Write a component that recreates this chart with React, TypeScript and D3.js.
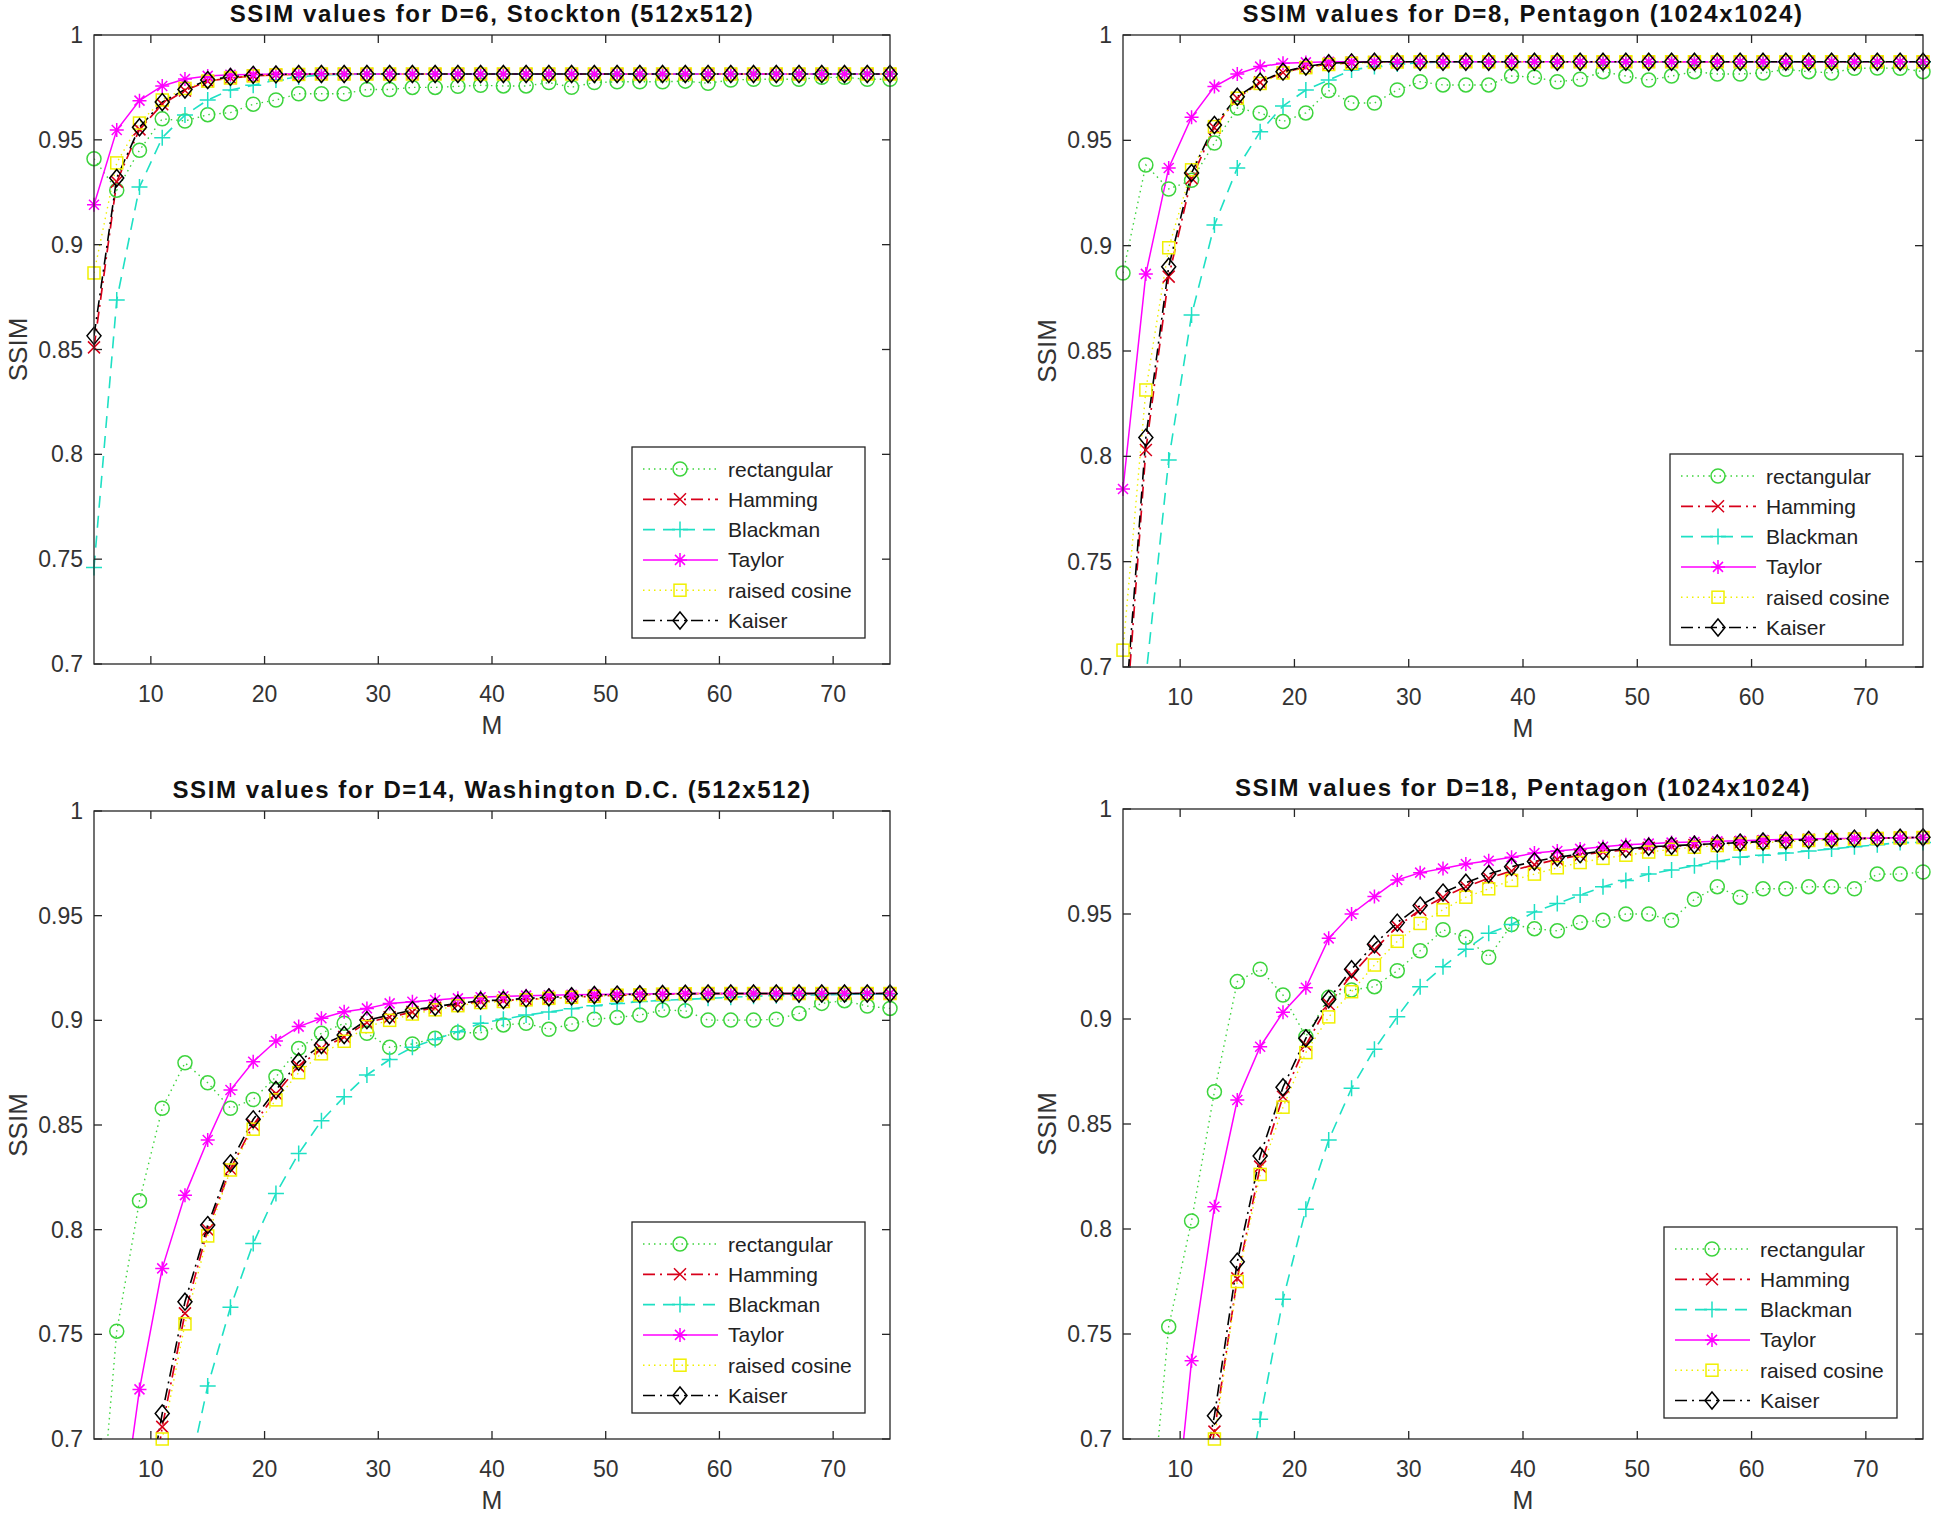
import React from 'react';
import * as d3 from 'd3';

const M = [5, 7, 9, 11, 13, 15, 17, 19, 21, 23, 25, 27, 29, 31, 33, 35, 37, 39, 41, 43, 45, 47, 49, 51, 53, 55, 57, 59, 61, 63, 65, 67, 69, 71, 73, 75];
const seriesNames = ['rectangular', 'Hamming', 'Blackman', 'Taylor', 'raised cosine', 'Kaiser'];
const titles = [
  'SSIM values for D=6, Stockton (512x512)',
  'SSIM values for D=8, Pentagon (1024x1024)',
  'SSIM values for D=14, Washington D.C. (512x512)',
  'SSIM values for D=18, Pentagon (1024x1024)',
];
const xTicks = [10, 20, 30, 40, 50, 60, 70];
const yTicks = [0.7, 0.75, 0.8, 0.85, 0.9, 0.95, 1];
const yTickLabels = ['0.7', '0.75', '0.8', '0.85', '0.9', '0.95', '1'];

// Panel 1: D=6, Stockton
const p1Rect = [0.941, 0.926, 0.945, 0.960, 0.959, 0.962, 0.963, 0.967, 0.969, 0.972, 0.972, 0.972, 0.974, 0.974, 0.975, 0.975, 0.9755, 0.976, 0.9757, 0.9757, 0.9773, 0.9751, 0.9773, 0.9777, 0.9777, 0.9777, 0.978, 0.977, 0.9785, 0.9789, 0.9789, 0.9789, 0.9798, 0.9798, 0.9789, 0.9789];
const p1Hamming = [0.851, 0.930, 0.955, 0.967, 0.9735, 0.978, 0.9795, 0.9805, 0.981, 0.9812, 0.9814, 0.9814, 0.9814, 0.9814, 0.9814, 0.9814, 0.9814, 0.9814, 0.9814, 0.9814, 0.9814, 0.9814, 0.9814, 0.9814, 0.9814, 0.9814, 0.9814, 0.9814, 0.9814, 0.9814, 0.9814, 0.9814, 0.9814, 0.9814, 0.9814, 0.9814];
const p1Blackman = [0.746, 0.8736, 0.9275, 0.951, 0.9618, 0.969, 0.9738, 0.976, 0.9785, 0.980, 0.981, 0.9812, 0.9814, 0.9814, 0.9814, 0.9814, 0.9814, 0.9814, 0.9814, 0.9814, 0.9814, 0.9814, 0.9814, 0.9814, 0.9814, 0.9814, 0.9814, 0.9814, 0.9814, 0.9814, 0.9814, 0.9814, 0.9814, 0.9814, 0.9814, 0.9814];
const p1Taylor = [0.919, 0.9547, 0.9687, 0.9757, 0.979, 0.9805, 0.981, 0.9812, 0.9814, 0.9814, 0.9814, 0.9814, 0.9814, 0.9814, 0.9814, 0.9814, 0.9814, 0.9814, 0.9814, 0.9814, 0.9814, 0.9814, 0.9814, 0.9814, 0.9814, 0.9814, 0.9814, 0.9814, 0.9814, 0.9814, 0.9814, 0.9814, 0.9814, 0.9814, 0.9814, 0.9814];
const p1Raised = [0.8865, 0.939, 0.958, 0.969, 0.9745, 0.978, 0.9795, 0.9805, 0.981, 0.9812, 0.9814, 0.9814, 0.9814, 0.9814, 0.9814, 0.9814, 0.9814, 0.9814, 0.9814, 0.9814, 0.9814, 0.9814, 0.9814, 0.9814, 0.9814, 0.9814, 0.9814, 0.9814, 0.9814, 0.9814, 0.9814, 0.9814, 0.9814, 0.9814, 0.9814, 0.9814];
const p1Kaiser = [0.8565, 0.9318, 0.956, 0.968, 0.974, 0.9785, 0.980, 0.981, 0.9812, 0.9814, 0.9814, 0.9814, 0.9814, 0.9814, 0.9814, 0.9814, 0.9814, 0.9814, 0.9814, 0.9814, 0.9814, 0.9814, 0.9814, 0.9814, 0.9814, 0.9814, 0.9814, 0.9814, 0.9814, 0.9814, 0.9814, 0.9814, 0.9814, 0.9814, 0.9814, 0.9814];

// Panel 2: D=8, Pentagon
const p2Rect = [0.887, 0.9383, 0.9269, 0.931, 0.9487, 0.9653, 0.963, 0.9589, 0.963, 0.9736, 0.9677, 0.9677, 0.9739, 0.9778, 0.9763, 0.9763, 0.9763, 0.9805, 0.980, 0.9778, 0.979, 0.9826, 0.9805, 0.9786, 0.9805, 0.9826, 0.9815, 0.9815, 0.982, 0.9837, 0.9826, 0.982, 0.9842, 0.9843, 0.9842, 0.9826];
const p2Hamming = [0.655, 0.803, 0.8853, 0.932, 0.956, 0.970, 0.9775, 0.9822, 0.9848, 0.9862, 0.9868, 0.9872, 0.9873, 0.9873, 0.9873, 0.9873, 0.9873, 0.9873, 0.9873, 0.9873, 0.9873, 0.9873, 0.9873, 0.9873, 0.9873, 0.9873, 0.9873, 0.9873, 0.9873, 0.9873, 0.9873, 0.9873, 0.9873, 0.9873, 0.9873, 0.9873];
const p2Blackman = [0.55, 0.695, 0.7983, 0.8671, 0.9098, 0.9369, 0.9541, 0.9663, 0.9739, 0.9786, 0.9834, 0.985, 0.9862, 0.9868, 0.9872, 0.9873, 0.9873, 0.9873, 0.9873, 0.9873, 0.9873, 0.9873, 0.9873, 0.9873, 0.9873, 0.9873, 0.9873, 0.9873, 0.9873, 0.9873, 0.9873, 0.9873, 0.9873, 0.9873, 0.9873, 0.9873];
const p2Taylor = [0.7845, 0.8866, 0.9369, 0.961, 0.9755, 0.9815, 0.985, 0.9866, 0.987, 0.9873, 0.9873, 0.9873, 0.9873, 0.9873, 0.9873, 0.9873, 0.9873, 0.9873, 0.9873, 0.9873, 0.9873, 0.9873, 0.9873, 0.9873, 0.9873, 0.9873, 0.9873, 0.9873, 0.9873, 0.9873, 0.9873, 0.9873, 0.9873, 0.9873, 0.9873, 0.9873];
const p2Raised = [0.708, 0.8315, 0.899, 0.936, 0.9565, 0.970, 0.977, 0.982, 0.9845, 0.986, 0.9866, 0.987, 0.9872, 0.9873, 0.9873, 0.9873, 0.9873, 0.9873, 0.9873, 0.9873, 0.9873, 0.9873, 0.9873, 0.9873, 0.9873, 0.9873, 0.9873, 0.9873, 0.9873, 0.9873, 0.9873, 0.9873, 0.9873, 0.9873, 0.9873, 0.9873];
const p2Kaiser = [0.664, 0.8089, 0.890, 0.9345, 0.9573, 0.9707, 0.9778, 0.9826, 0.985, 0.9866, 0.987, 0.9873, 0.9873, 0.9873, 0.9873, 0.9873, 0.9873, 0.9873, 0.9873, 0.9873, 0.9873, 0.9873, 0.9873, 0.9873, 0.9873, 0.9873, 0.9873, 0.9873, 0.9873, 0.9873, 0.9873, 0.9873, 0.9873, 0.9873, 0.9873, 0.9873];

// Panel 3: D=14, Washington D.C.
const p3Rect = [0.623, 0.7515, 0.8138, 0.858, 0.8797, 0.8702, 0.858, 0.8622, 0.873, 0.8866, 0.8938, 0.8986, 0.8938, 0.8871, 0.8887, 0.8914, 0.8941, 0.8941, 0.8978, 0.8986, 0.8957, 0.8982, 0.9005, 0.9014, 0.9025, 0.9049, 0.9046, 0.9001, 0.9001, 0.9001, 0.9005, 0.9033, 0.9081, 0.9094, 0.9068, 0.9057];
const p3Hamming = [0.55, 0.60, 0.636, 0.7058, 0.760, 0.800, 0.829, 0.850, 0.865, 0.878, 0.8865, 0.892, 0.899, 0.9015, 0.904, 0.906, 0.9075, 0.909, 0.9095, 0.910, 0.9105, 0.911, 0.9115, 0.912, 0.9122, 0.9125, 0.9127, 0.9128, 0.9128, 0.9128, 0.9128, 0.9128, 0.9128, 0.9128, 0.9128, 0.9128];
const p3Blackman = [0.45, 0.52, 0.58, 0.63, 0.675, 0.7253, 0.7629, 0.7934, 0.8173, 0.8364, 0.852, 0.8635, 0.8739, 0.8813, 0.8871, 0.8909, 0.8946, 0.8986, 0.9005, 0.9025, 0.904, 0.9055, 0.907, 0.908, 0.909, 0.9095, 0.910, 0.9105, 0.911, 0.9115, 0.9118, 0.912, 0.9122, 0.9124, 0.9125, 0.9126];
const p3Taylor = [0.55, 0.645, 0.7237, 0.7815, 0.8165, 0.8428, 0.8667, 0.8802, 0.8901, 0.897, 0.901, 0.9041, 0.9057, 0.9081, 0.9089, 0.9097, 0.9105, 0.911, 0.9115, 0.9118, 0.912, 0.9122, 0.9124, 0.9125, 0.9126, 0.9127, 0.9128, 0.9128, 0.9128, 0.9128, 0.9128, 0.9128, 0.9128, 0.9128, 0.9128, 0.9128];
const p3Raised = [0.54, 0.59, 0.635, 0.700, 0.755, 0.797, 0.8285, 0.848, 0.862, 0.875, 0.884, 0.890, 0.897, 0.900, 0.903, 0.905, 0.907, 0.9085, 0.909, 0.9098, 0.9105, 0.911, 0.9115, 0.912, 0.9122, 0.9125, 0.9127, 0.9128, 0.9128, 0.9128, 0.9128, 0.9128, 0.9128, 0.9128, 0.9128, 0.9128];
const p3Kaiser = [0.55, 0.60, 0.651, 0.7122, 0.7656, 0.8022, 0.8317, 0.8527, 0.8667, 0.8802, 0.8882, 0.893, 0.9001, 0.9025, 0.9049, 0.9065, 0.9081, 0.9094, 0.9097, 0.9105, 0.911, 0.9115, 0.9121, 0.9123, 0.9125, 0.9126, 0.9127, 0.9128, 0.9128, 0.9128, 0.9128, 0.9128, 0.9128, 0.9128, 0.9128, 0.9128];

// Panel 4: D=18, Pentagon
const p4Rect = [0.50, 0.635, 0.7535, 0.8038, 0.8654, 0.9178, 0.9237, 0.9114, 0.8916, 0.9103, 0.9138, 0.9154, 0.923, 0.9325, 0.9425, 0.9389, 0.9294, 0.945, 0.943, 0.942, 0.946, 0.947, 0.950, 0.950, 0.947, 0.957, 0.963, 0.958, 0.962, 0.962, 0.963, 0.963, 0.962, 0.969, 0.969, 0.970];
const p4Hamming = [0.44, 0.54, 0.59, 0.645, 0.7035, 0.7765, 0.8297, 0.863, 0.8876, 0.907, 0.921, 0.933, 0.944, 0.952, 0.958, 0.963, 0.967, 0.9705, 0.9735, 0.976, 0.978, 0.9795, 0.9805, 0.9815, 0.9822, 0.9828, 0.9834, 0.984, 0.9845, 0.985, 0.9853, 0.9856, 0.9859, 0.9861, 0.9863, 0.9865];
const p4Blackman = [0.40, 0.45, 0.50, 0.55, 0.60, 0.65, 0.7094, 0.7665, 0.8094, 0.8424, 0.867, 0.8856, 0.9011, 0.9154, 0.9249, 0.9332, 0.9408, 0.945, 0.951, 0.955, 0.959, 0.963, 0.966, 0.969, 0.971, 0.973, 0.975, 0.977, 0.978, 0.979, 0.980, 0.981, 0.982, 0.983, 0.984, 0.984];
const p4Taylor = [0.45, 0.55, 0.63, 0.7373, 0.8106, 0.8614, 0.8868, 0.9032, 0.9149, 0.9384, 0.95, 0.9583, 0.9662, 0.9697, 0.9717, 0.9738, 0.9754, 0.977, 0.979, 0.980, 0.981, 0.982, 0.983, 0.9835, 0.984, 0.9843, 0.9846, 0.9849, 0.9852, 0.9855, 0.9857, 0.9859, 0.986, 0.9862, 0.9863, 0.9864];
const p4Raised = [0.43, 0.53, 0.58, 0.64, 0.70, 0.775, 0.826, 0.858, 0.884, 0.901, 0.913, 0.9257, 0.937, 0.9455, 0.952, 0.958, 0.962, 0.966, 0.969, 0.972, 0.9745, 0.9765, 0.978, 0.9795, 0.9808, 0.9818, 0.9826, 0.9833, 0.984, 0.9845, 0.985, 0.9854, 0.9857, 0.986, 0.9862, 0.9864];
const p4Kaiser = [0.45, 0.55, 0.60, 0.655, 0.7111, 0.7844, 0.8348, 0.8675, 0.8908, 0.9094, 0.9237, 0.9356, 0.9459, 0.954, 0.9602, 0.9649, 0.969, 0.9725, 0.975, 0.977, 0.9785, 0.980, 0.981, 0.982, 0.9825, 0.983, 0.9835, 0.984, 0.9845, 0.985, 0.9853, 0.9856, 0.9859, 0.9861, 0.9863, 0.9865];

const panelSeries = [
  [p1Rect, p1Hamming, p1Blackman, p1Taylor, p1Raised, p1Kaiser],
  [p2Rect, p2Hamming, p2Blackman, p2Taylor, p2Raised, p2Kaiser],
  [p3Rect, p3Hamming, p3Blackman, p3Taylor, p3Raised, p3Kaiser],
  [p4Rect, p4Hamming, p4Blackman, p4Taylor, p4Raised, p4Kaiser],
];

// layout (pixels)
const layout = [
  { left: 94, right: 890, top: 35, bottom: 664, legR: 25, legB: 26 },
  { left: 1123, right: 1923, top: 35, bottom: 667, legR: 20, legB: 22 },
  { left: 94, right: 890, top: 811, bottom: 1439, legR: 25, legB: 26 },
  { left: 1123, right: 1923, top: 809, bottom: 1439, legR: 26, legB: 21 },
];

const styles = [
  { color: '#3dd43d', dash: '1.5,4', marker: 'o', width: 1.4 },
  { color: '#d8001a', dash: '12,5,2,5', marker: 'x', width: 1.7 },
  { color: '#1ee0c4', dash: '12,8', marker: '+', width: 1.6 },
  { color: '#ff00ff', dash: null, marker: '*', width: 1.5 },
  { color: '#f0f000', dash: '1.5,4', marker: 's', width: 1.4 },
  { color: '#000000', dash: '12,5,2,5', marker: 'd', width: 1.6 },
];

const FONT = '"Liberation Sans", Arial, Helvetica, sans-serif';
const AXIS = '#262626';

function Marker({ type, x, y, color }: { type: string; x: number; y: number; color: string }) {
  const sw = 1.5;
  if (type === 'o') return <circle cx={x} cy={y} r={7} fill="none" stroke={color} strokeWidth={sw} />;
  if (type === 's') return <rect x={x - 6} y={y - 6} width={12} height={12} fill="none" stroke={color} strokeWidth={sw} />;
  if (type === 'd')
    return <path d={`M${x},${y - 8.5}L${x + 7},${y}L${x},${y + 8.5}L${x - 7},${y}Z`} fill="none" stroke={color} strokeWidth={sw} />;
  if (type === 'x')
    return <path d={`M${x - 6},${y - 6}L${x + 6},${y + 6}M${x - 6},${y + 6}L${x + 6},${y - 6}`} stroke={color} strokeWidth={sw} />;
  if (type === '+')
    return <path d={`M${x - 8},${y}L${x + 8},${y}M${x},${y - 8}L${x},${y + 8}`} stroke={color} strokeWidth={sw} />;
  // star
  return (
    <path
      d={`M${x - 7},${y}L${x + 7},${y}M${x},${y - 7}L${x},${y + 7}M${x - 5},${y - 5}L${x + 5},${y + 5}M${x - 5},${y + 5}L${x + 5},${y - 5}`}
      stroke={color}
      strokeWidth={sw}
    />
  );
}

function Panel({ idx }: { idx: number }) {
  const L = layout[idx];
  const x = d3.scaleLinear().domain([5, 75]).range([L.left, L.right]);
  const y = d3.scaleLinear().domain([0.7, 1]).range([L.bottom, L.top]);
  const series = panelSeries[idx];
  const clipId = `clip${idx}`;
  const line = d3
    .line<number>()
    .x((_, i) => x(M[i]))
    .y((v) => y(v));
  const cx = (L.left + L.right) / 2;
  const cy = (L.top + L.bottom) / 2;
  const legW = 233;
  const legH = 191;
  const legX = L.right - L.legR - legW;
  const legY = L.bottom - L.legB - legH;
  return (
    <g>
      <defs>
        <clipPath id={clipId}>
          <rect x={L.left} y={L.top} width={L.right - L.left} height={L.bottom - L.top} />
        </clipPath>
      </defs>
      <rect x={L.left} y={L.top} width={L.right - L.left} height={L.bottom - L.top} fill="#fff" />
      <g clipPath={`url(#${clipId})`}>
        {series.map((vals, s) => (
          <path
            key={s}
            d={line(vals) || ''}
            fill="none"
            stroke={styles[s].color}
            strokeWidth={styles[s].width}
            strokeDasharray={styles[s].dash || undefined}
          />
        ))}
      </g>
      {series.map((vals, s) => (
        <g key={s}>
          {vals.map((v, i) =>
            v >= 0.7 && v <= 1 ? <Marker key={i} type={styles[s].marker} x={x(M[i])} y={y(v)} color={styles[s].color} /> : null
          )}
        </g>
      ))}
      <rect x={L.left} y={L.top} width={L.right - L.left} height={L.bottom - L.top} fill="none" stroke={AXIS} strokeWidth={1.3} />
      {xTicks.map((t) => (
        <g key={t}>
          <line x1={x(t)} x2={x(t)} y1={L.bottom} y2={L.bottom - 8} stroke={AXIS} strokeWidth={1.3} />
          <line x1={x(t)} x2={x(t)} y1={L.top} y2={L.top + 8} stroke={AXIS} strokeWidth={1.3} />
          <text x={x(t)} y={L.bottom + 38} textAnchor="middle" fontSize={23} fill="#333" fontFamily={FONT}>
            {t}
          </text>
        </g>
      ))}
      {yTicks.map((t, i) => (
        <g key={t}>
          <line x1={L.left} x2={L.left + 8} y1={y(t)} y2={y(t)} stroke={AXIS} strokeWidth={1.3} />
          <line x1={L.right} x2={L.right - 8} y1={y(t)} y2={y(t)} stroke={AXIS} strokeWidth={1.3} />
          <text x={L.left - 11} y={y(t) + 8} textAnchor="end" fontSize={23} fill="#333" fontFamily={FONT}>
            {yTickLabels[i]}
          </text>
        </g>
      ))}
      <text x={cx} y={L.top - 13} textAnchor="middle" fontSize={24} fontWeight="bold" letterSpacing={1.6} fill="#111" fontFamily={FONT}>
        {titles[idx]}
      </text>
      <text x={cx} y={L.bottom + 70} textAnchor="middle" fontSize={25} fill="#333" fontFamily={FONT}>
        M
      </text>
      <text
        transform={`translate(${L.left - 67},${cy}) rotate(-90)`}
        textAnchor="middle"
        fontSize={26}
        fill="#333"
        fontFamily={FONT}
      >
        SSIM
      </text>
      <g>
        <rect x={legX} y={legY} width={legW} height={legH} fill="#fff" stroke={AXIS} strokeWidth={1.3} />
        {seriesNames.map((name, s) => {
          const ry = legY + 22 + s * 30.3;
          return (
            <g key={name}>
              <line
                x1={legX + 11}
                x2={legX + 86}
                y1={ry}
                y2={ry}
                stroke={styles[s].color}
                strokeWidth={styles[s].width}
                strokeDasharray={styles[s].dash || undefined}
              />
              <Marker type={styles[s].marker} x={legX + 48} y={ry} color={styles[s].color} />
              <text x={legX + 96} y={ry + 7.5} fontSize={21} fill="#222" fontFamily={FONT}>
                {name}
              </text>
            </g>
          );
        })}
      </g>
    </g>
  );
}

export default function App() {
  return (
    <svg width={1944} height={1516} style={{ position: 'absolute', left: 0, top: 0, background: '#fff' }}>
      <rect x={0} y={0} width={1944} height={1516} fill="#fff" />
      {[0, 1, 2, 3].map((i) => (
        <Panel key={i} idx={i} />
      ))}
    </svg>
  );
}
